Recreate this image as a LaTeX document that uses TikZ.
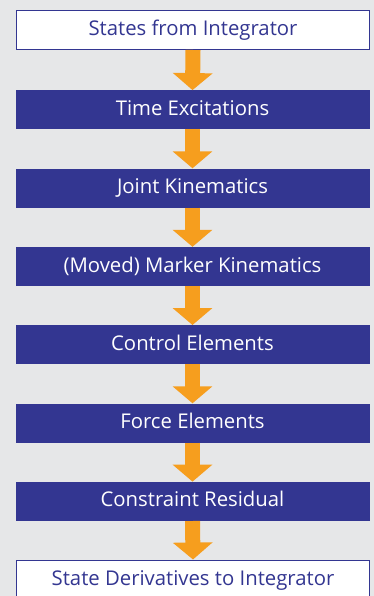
\documentclass[tikz,border=0pt]{standalone}
\usepackage{fontspec}
\setmainfont{Open Sans}
\usepackage{xcolor}
\usepackage{tikz}
\usetikzlibrary{arrows.meta}

\definecolor{darkblue}{RGB}{51,54,145}
\definecolor{flowarrow}{RGB}{246,158,30}
\definecolor{bggray}{RGB}{230,231,232}

\begin{document}
\begin{tikzpicture}[x=1pt, y=-1pt, font=\fontsize{20.3}{24}\selectfont]
		\tikzstyle{stage} = [draw=none, fill=darkblue, rectangle, minimum width=354pt, minimum height=39pt, text=white, align=center, inner sep=0pt, text height=14.5pt, text depth=3.5pt]
		\tikzstyle{stagew} = [draw=darkblue, line width=1.3pt, fill=white, rectangle, minimum width=352.7pt, minimum height=38.7pt, text=darkblue, align=center, inner sep=0pt, text height=14.5pt, text depth=3.5pt]
		\tikzstyle{arrow} = [draw=flowarrow, line width=15pt, -{Triangle[width=39pt, length=17pt]}]
		
		\fill[bggray] (0,0) rectangle (374,596);
		\useasboundingbox (0,0) rectangle (374,596);
		\clip (0,0) rectangle (374,596);
		
		\node[stagew]	at (193, 30)	(s0)	{States from Integrator};
		\node[stage]	at (192.5, 109.8)	(s1)	{Time Excitations};
		\node[stage]	at (192.5, 188)	(s2)	{Joint Kinematics};
		\node[stage]	at (192.5, 266.5)	(s3)	{(Moved) Marker Kinematics};
		\node[stage]	at (192.5, 344.7)	(s4)	{Control Elements};
		\node[stage]	at (192.5, 423)	(s5)	{Force Elements};
		\node[stage]	at (192.5, 501.3)	(s6)	{Constraint Residual};
		\node[stagew]	at (193, 579.5)	(s7)	{State Derivatives to Integrator};
		
		\draw [arrow] (s0.south) -- (s1.north);
		\draw [arrow] (s1.south) -- (s2.north);
		\draw [arrow] (s2.south) -- (s3.north);
		\draw [arrow] (s3.south) -- (s4.north);
		\draw [arrow] (s4.south) -- (s5.north);
		\draw [arrow] (s5.south) -- (s6.north);
		\draw [arrow] (s6.south) -- (s7.north);
		
	\end{tikzpicture}
\end{document}
